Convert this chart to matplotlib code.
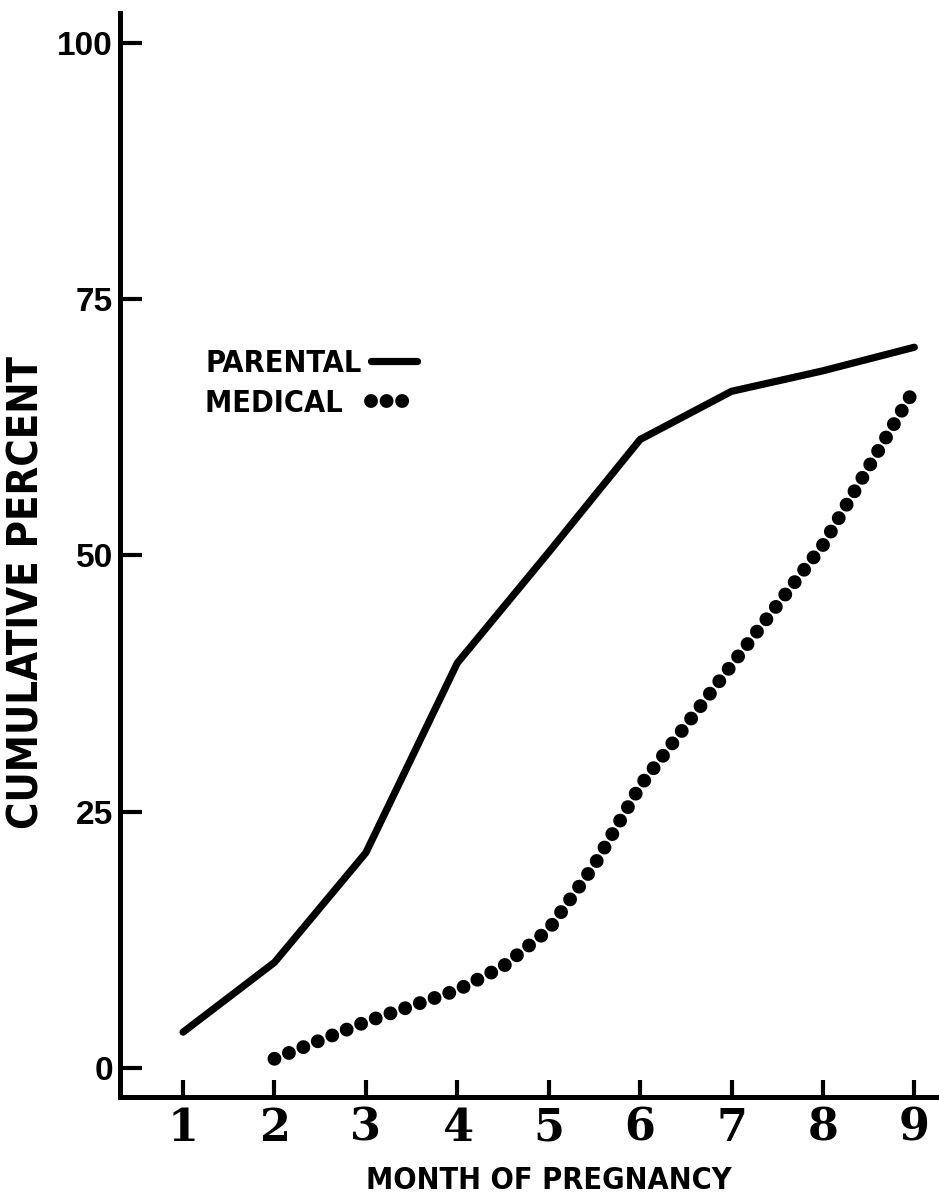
import matplotlib
matplotlib.use("Agg")
import matplotlib.pyplot as plt

# Values
months = [1, 2, 3, 4, 5, 6, 7, 8, 9]
parental = [3.5, 10.3, 21.0, 39.5, 50.3, 61.3, 66.0, 68.0, 70.3]

medical_months = [2, 3, 4, 4.5, 5, 5.5, 6, 7, 8, 9]
medical = [0.9, 4.5, 7.6, 9.9, 13.5, 19.8, 27.5, 39.3, 51.0, 66.2]

y_ticks = [0, 25, 50, 75, 100]
x_ticks = months

SANS = ["DejaVu Sans"]

fig = plt.figure(figsize=(9.39, 12.03), dpi=100)
ax = fig.add_axes([0.1278, 0.0881, 0.8722, 0.9011])

ax.plot(months, parental, color="black", lw=5.2, solid_capstyle="round",
        solid_joinstyle="round", label="PARENTAL")
# dotted line: tiny dashes with round caps give round dots
ax.plot(medical_months, medical, color="black", lw=10,
        linestyle=(0, (0.001, 1.12)), dash_capstyle="round", label="MEDICAL  ")

ax.set_xlim(0.31, 9.27)
ax.set_ylim(-2.83, 102.9)

for side in ["top", "right"]:
    ax.spines[side].set_visible(False)
for side in ["left", "bottom"]:
    ax.spines[side].set_linewidth(3.6)
    ax.spines[side].set_capstyle("projecting")

ax.set_yticks(y_ticks)
ax.set_yticklabels([str(v) for v in y_ticks], family="Liberation Sans", weight="bold", fontsize=24)
ax.set_xticks(x_ticks)
ax.set_xticklabels([str(v) for v in x_ticks], family="DejaVu Serif", weight="bold", fontsize=32)
ax.tick_params(axis="y", direction="in", length=16, width=3, pad=5)
ax.tick_params(axis="x", direction="in", length=12, width=3, pad=7)

ax.set_xlabel("MONTH OF PREGNANCY", family=SANS, weight="bold", fontsize=22,
              fontstretch="condensed")
ax.xaxis.set_label_coords(0.523, -0.064)
ax.set_ylabel("CUMULATIVE PERCENT", family=SANS, weight="bold", fontsize=30,
              fontstretch="condensed")
ax.yaxis.set_label_coords(-0.089, 0.465)

leg = ax.legend(loc="upper left", bbox_to_anchor=(0.104, 0.69), frameon=False,
                markerfirst=False, handlelength=1.5, handletextpad=0.3,
                labelspacing=0.35, borderpad=0, borderaxespad=0,
                prop={"family": SANS, "weight": "bold", "size": 22,
                      "stretch": "condensed"})

fig.savefig("out.png", dpi=100)
